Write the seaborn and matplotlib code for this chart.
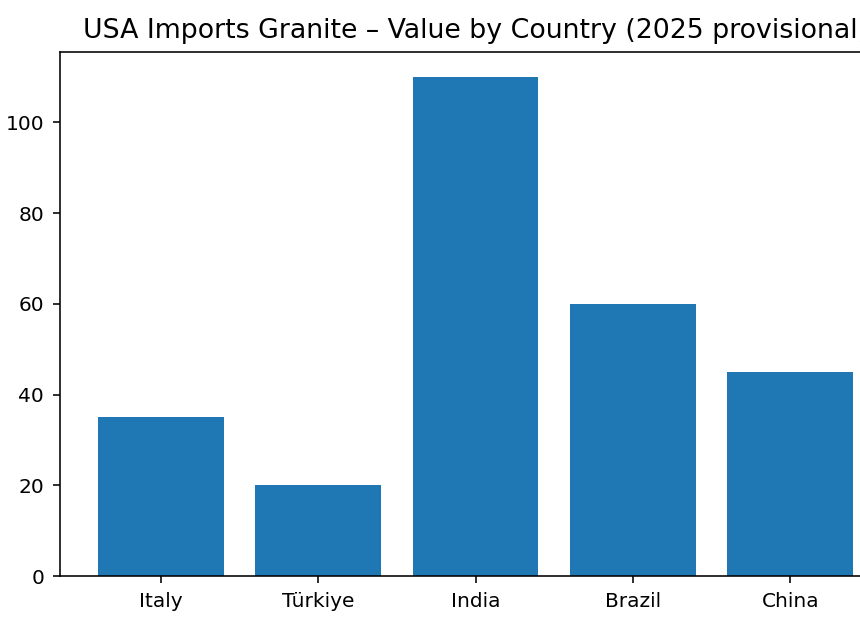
import matplotlib
matplotlib.use('Agg')
import matplotlib.pyplot as plt
import seaborn as sns
import pandas as pd

countries = ['Italy', 'Türkiye', 'India', 'Brazil', 'China']
values = [35, 20, 110, 60, 45]
title = 'USA Imports Granite – Value by Country (2025 provisional)'

df = pd.DataFrame({'country': countries, 'value': values})

plt.rcParams['font.family'] = ['DejaVu Sans']
plt.rcParams['axes.linewidth'] = 1.15

fig = plt.figure(figsize=(8.6, 6.31), dpi=100)
# axes runs past the right edge, like the cropped original
ax = fig.add_axes([60 / 860, 55 / 631, 831 / 860, 524 / 631])

sns.barplot(data=df, x='country', y='value', color='#1f77b4', saturation=1,
            width=0.8, linewidth=0, ax=ax)

# matplotlib-style 5% margins on the category axis
ax.set_xlim(-0.64, len(countries) - 0.36)
ax.set_ylim(0, max(values) * 1.05)
ax.set_xlabel('')
ax.set_ylabel('')
ax.set_title(title, fontsize=19.3, pad=10)
ax.tick_params(labelsize=14.5, length=5, width=1.15, pad=6.5)

fig.savefig('out.png', dpi=100)
